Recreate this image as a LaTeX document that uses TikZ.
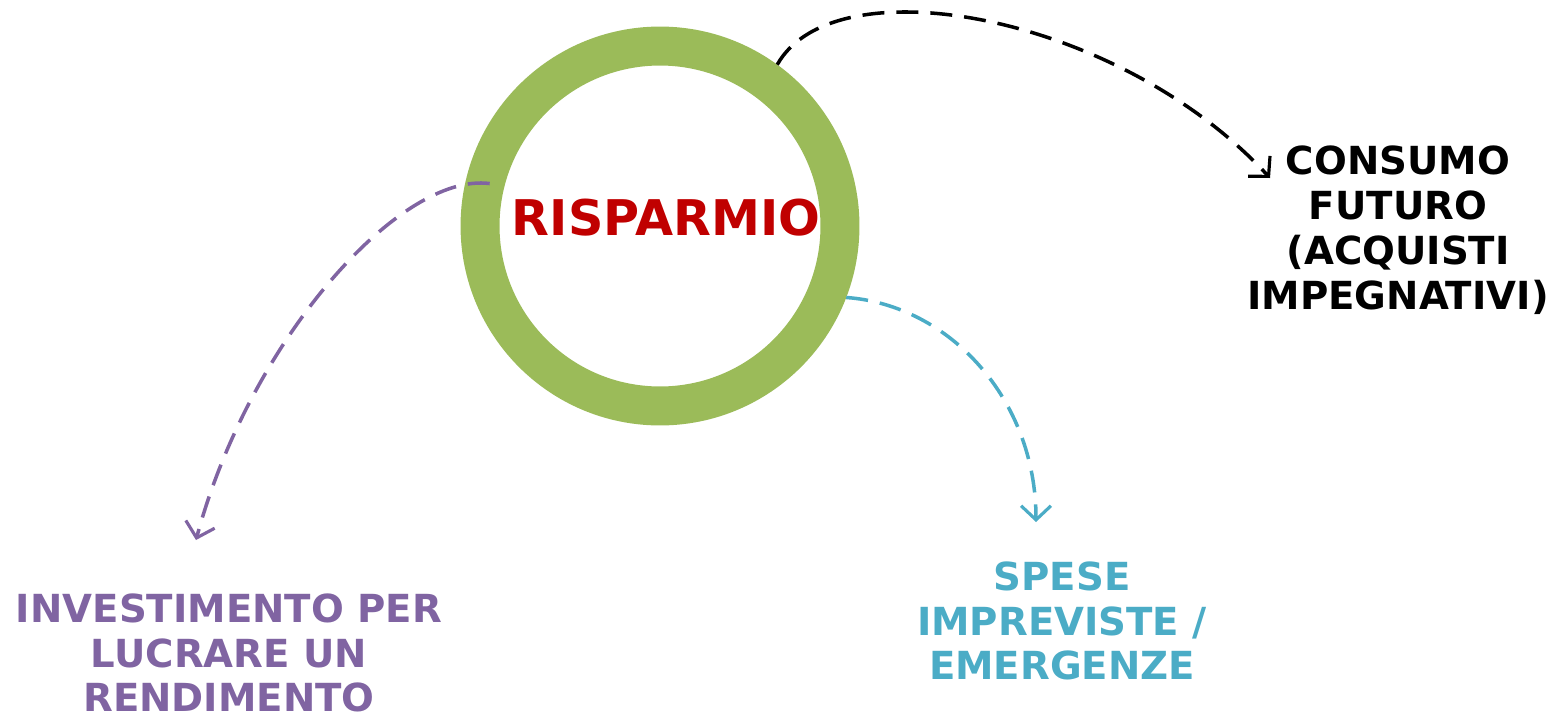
\documentclass[tikz,border=0pt]{standalone}
\usepackage{fontspec}
\setmainfont{DejaVu Sans}
\usetikzlibrary{
arrows.meta,
calc,
positioning
}
\definecolor{ringgreen}{HTML}{9BBB59}
\definecolor{saveRed}{HTML}{C00000}
\definecolor{invPurple}{HTML}{8064A2}
\definecolor{emTeal}{HTML}{4BACC6}
\tikzset{>={Straight Barb[length=8pt,width=17pt,line width=1.8pt]}}

\begin{document}
\begin{tikzpicture}[x=0.02cm,y=-0.02cm,
	lbl/.style={align=center,font=\fontsize{22}{25.5}\selectfont\bfseries},
	flow/.style={->,line width=2pt,dash pattern=on 0.44cm off 0.24cm}]
		\useasboundingbox (0,0) rectangle (1564,717);
		\def\ts{\fontsize{28}{30}\selectfont\bfseries}
		\node[circle,draw=ringgreen,line width=0.78cm,minimum size=7.2cm] at (660,226) (ring) {};
		\node[text=saveRed] at (666,218) (saving) {\ts RISPARMIO};
		
		\node[lbl] at (1398,230) (consumo) {CONSUMO\\FUTURO\\(ACQUISTI\\IMPEGNATIVI)};
		\node[lbl,text=emTeal] at (1062,621) (spese) {SPESE\\IMPREVISTE /\\EMERGENZE};
		\node[lbl,text=invPurple] at (229,653) (invest) {INVESTIMENTO PER\\LUCRARE UN\\RENDIMENTO};
		
		\coordinate (tipc) at (1270,178);
		\coordinate (tips) at (1036,522);
		\coordinate (tipi) at (196,540);
		
		\draw[flow] (ring.54) .. controls (835,-38) and (1120,15) .. (tipc);
		\draw[flow,emTeal] (ring.-21) .. controls (950,305) and (1036,400) .. (tips);
		\draw[flow,invPurple] ($(ring.center)!0.88!(ring.166)$) .. controls (400,172) and (250,340) .. (tipi);
		\end{tikzpicture}
\end{document}
